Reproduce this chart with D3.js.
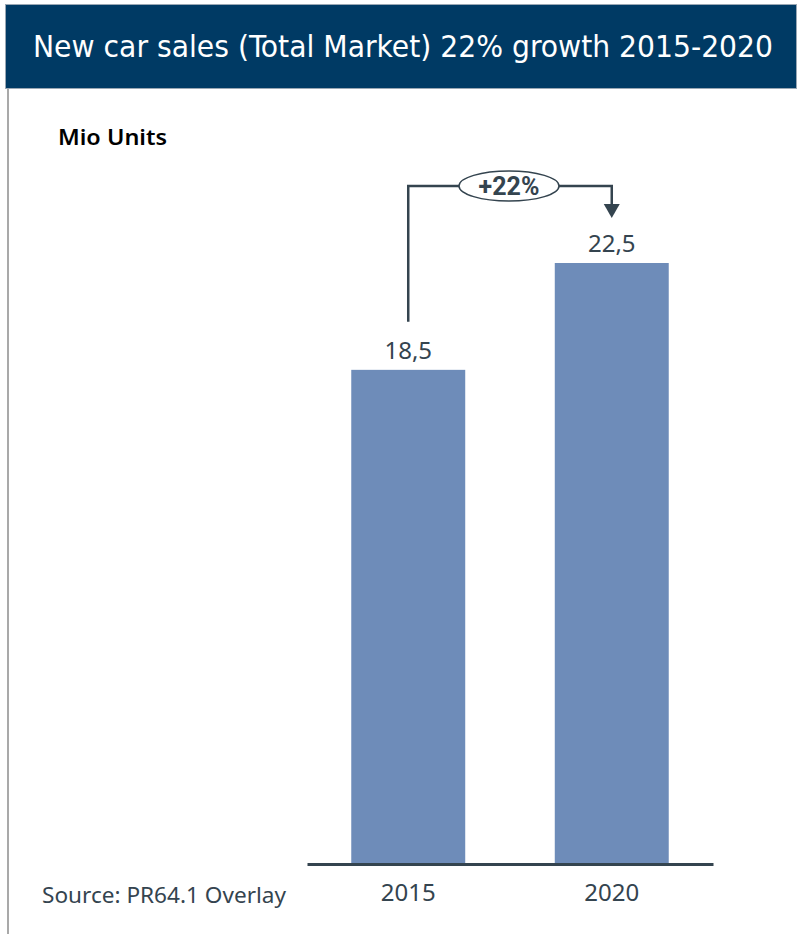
<!DOCTYPE html>
<html>
<head>
<meta charset="utf-8">
<script src="https://cdn.jsdelivr.net/npm/d3@7"></script>
<style>
  body { margin: 0; background: #fff; }
  svg { display: block; }
</style>
</head>
<body>
<div id="chart"></div>
<script>
// data
var years = ["2015", "2020"];
var sales = [18.5, 22.5];
var growthLabel = "+22%";

var W = 800, H = 934;
var svg = d3.select("#chart").append("svg")
    .attr("width", W)
    .attr("height", H);

// header band
svg.append("rect")
    .attr("x", 5.5).attr("y", 4.5)
    .attr("width", 791).attr("height", 84)
    .attr("fill", "#003a64")
    .attr("stroke", "#9aa7b4")
    .attr("stroke-width", 1);

svg.append("text")
    .attr("x", 403)
    .attr("y", 57)
    .attr("text-anchor", "middle")
    .attr("fill", "#ffffff")
    .style("font-family", "'Liberation Sans Narrow', 'DejaVu Sans Condensed', sans-serif")
    .style("font-size", "30px")
    .attr("textLength", 740)
    .attr("lengthAdjust", "spacingAndGlyphs")
    .text("New car sales (Total Market) 22% growth 2015-2020");

// left frame line
svg.append("line")
    .attr("x1", 8).attr("x2", 8)
    .attr("y1", 89).attr("y2", H)
    .attr("stroke", "#a9a9a9")
    .attr("stroke-width", 2);

svg.append("text")
    .attr("x", 58)
    .attr("y", 145)
    .style("font-family", "'Noto Sans', sans-serif")
    .style("font-size", "22px")
    .style("font-weight", "600")
    .attr("fill", "#000")
    .attr("textLength", 109)
    .attr("lengthAdjust", "spacingAndGlyphs")
    .text("Mio Units");

// scales
var baseY = 864;
var x = d3.scaleBand()
    .domain(years)
    .range([307, 713])
    .paddingInner(0.44)
    .paddingOuter(0.2175);

var y = d3.scaleLinear()
    .domain([0, 22.5])
    .range([baseY, 263]);

var data = years.map(function(d, i) { return { year: d, value: sales[i] }; });

// bars
svg.selectAll("rect.bar")
    .data(data)
    .enter()
    .append("rect")
    .attr("class", "bar")
    .attr("x", function(d) { return x(d.year); })
    .attr("y", function(d) { return y(d.value); })
    .attr("width", x.bandwidth())
    .attr("height", function(d) { return baseY - y(d.value); })
    .attr("fill", "#6e8cb9");

// baseline axis
var axis = svg.append("g")
    .attr("transform", "translate(0," + baseY + ")")
    .call(d3.axisBottom(x).tickSize(0).tickPadding(20));
axis.select(".domain")
    .attr("stroke", "#34444f")
    .attr("stroke-width", 3);
axis.selectAll("text")
    .attr("fill", "#34444f")
    .style("font-family", "'Noto Sans', sans-serif")
    .style("font-size", "24px");

// value labels
svg.selectAll("text.val")
    .data(data)
    .enter()
    .append("text")
    .attr("class", "val")
    .attr("x", function(d) { return x(d.year) + x.bandwidth() / 2; })
    .attr("y", function(d) { return y(d.value) - 11; })
    .attr("text-anchor", "middle")
    .attr("fill", "#34444f")
    .style("font-family", "'Noto Sans', sans-serif")
    .style("font-size", "24px")
    .text(function(d) { return d3.format(".1f")(d.value).replace(".", ","); });

// growth annotation
var x0 = x(years[0]) + x.bandwidth() / 2;
var x1 = x(years[1]) + x.bandwidth() / 2;
var topY = 186;
var startY = y(sales[0]) - 48;
var arrowTip = y(sales[1]) - 45;
var midX = (x0 + x1) / 2;

svg.append("path")
    .attr("d", "M" + x0 + "," + startY + "V" + topY + "H" + x1 + "V" + (arrowTip - 12))
    .attr("fill", "none")
    .attr("stroke", "#34444f")
    .attr("stroke-width", 2.5);

svg.append("path")
    .attr("d", "M" + (x1 - 8) + "," + (arrowTip - 14) + "L" + (x1 + 8) + "," + (arrowTip - 14) + "L" + x1 + "," + arrowTip + "Z")
    .attr("fill", "#34444f");

svg.append("ellipse")
    .attr("cx", midX - 1)
    .attr("cy", topY)
    .attr("rx", 50)
    .attr("ry", 15)
    .attr("fill", "#fff")
    .attr("stroke", "#34444f")
    .attr("stroke-width", 1.5);

svg.append("text")
    .attr("x", midX - 1)
    .attr("y", topY + 9)
    .attr("text-anchor", "middle")
    .attr("fill", "#34444f")
    .style("font-family", "Roboto, 'Noto Sans', sans-serif")
    .style("font-size", "25px")
    .style("font-weight", "bold")
    .text(growthLabel);

// source
svg.append("text")
    .attr("x", 42)
    .attr("y", 903)
    .attr("fill", "#34444f")
    .style("font-family", "'Noto Sans', sans-serif")
    .style("font-size", "21px")
    .attr("textLength", 244)
    .attr("lengthAdjust", "spacingAndGlyphs")
    .text("Source: PR64.1 Overlay");
</script>
</body>
</html>
